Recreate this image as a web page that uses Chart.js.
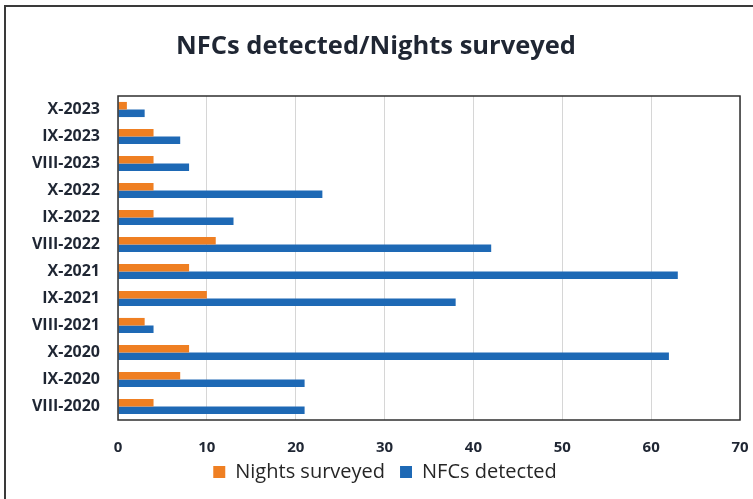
<!DOCTYPE html>
<html>
<head>
<meta charset="utf-8">
<script src="https://cdn.jsdelivr.net/npm/chart.js@4/dist/chart.umd.min.js"></script>
<style>
  html, body { margin: 0; padding: 0; background: #ffffff; }
  #wrap { width: 753px; height: 499px; position: relative; }
</style>
</head>
<body>
<div id="wrap"><canvas id="c" width="753" height="499"></canvas></div>
<script>
// Survey periods, listed top to bottom
const periods = ['X-2023', 'IX-2023', 'VIII-2023', 'X-2022', 'IX-2022', 'VIII-2022',
                 'X-2021', 'IX-2021', 'VIII-2021', 'X-2020', 'IX-2020', 'VIII-2020'];
// Nights surveyed per period
const nightsSurveyed = [1, 4, 4, 4, 4, 11, 8, 10, 3, 8, 7, 4];
// NFCs detected per period
const nfcsDetected = [3, 7, 8, 23, 13, 42, 63, 38, 4, 62, 21, 21];
// Value axis ticks
const xTicks = [0, 10, 20, 30, 40, 50, 60, 70];

const FONT = '"Open Sans", "Liberation Sans", sans-serif';
const TEXT = '#1f2633';

// Outer frame and plot-area box
const framePlugin = {
  id: 'frame',
  afterLayout(chart) {
    // nudge the legend a little up and right, closer under the axis labels
    const lg = chart.legend;
    if (lg) {
      lg.top -= 7; lg.bottom -= 7;
      lg.left += 9; lg.right += 9;
    }
  },
  beforeDraw(chart) {
    const ctx = chart.ctx;
    ctx.save();
    ctx.fillStyle = '#ffffff';
    ctx.fillRect(0, 0, chart.width, chart.height);
    ctx.restore();
  },
  afterDraw(chart) {
    const ctx = chart.ctx;
    const a = chart.chartArea;
    ctx.save();
    ctx.strokeStyle = '#3a3a3a';
    ctx.lineWidth = 2;
    ctx.strokeRect(5, 6, chart.width + 20, chart.height + 20);
    ctx.lineWidth = 1.5;
    ctx.strokeStyle = '#2f2f2f';
    ctx.strokeRect(a.left, a.top, a.right - a.left, a.bottom - a.top);
    ctx.restore();
  }
};

new Chart(document.getElementById('c'), {
  type: 'bar',
  data: {
    labels: periods,
    datasets: [
      { label: 'Nights surveyed', data: nightsSurveyed, backgroundColor: '#EF7F22' },
      { label: 'NFCs detected', data: nfcsDetected, backgroundColor: '#1E69B5' }
    ]
  },
  options: {
    indexAxis: 'y',
    responsive: false,
    animation: false,
    devicePixelRatio: 1,
    layout: { padding: { left: 12, right: 13, top: 0, bottom: 0 } },
    datasets: { bar: { barPercentage: 1, categoryPercentage: 0.56 } },
    scales: {
      x: {
        min: 0, max: 70,
        afterBuildTicks(scale) { scale.ticks = xTicks.map(v => ({ value: v })); },
        grid: { color: '#d6d6d6', lineWidth: 1, drawTicks: false },
        border: { display: false },
        ticks: { padding: 19, color: TEXT, font: { family: FONT, size: 15, weight: 'bold' } },
        afterFit(scale) { scale.height = 34; scale.paddingLeft = 0; scale.paddingRight = 0; }
      },
      y: {
        grid: { display: false, drawTicks: false },
        border: { display: false },
        ticks: { padding: 18, color: TEXT, font: { family: FONT, size: 16, weight: 'bold' } },
        afterFit(scale) { scale.width = 106; scale.paddingTop = 0; scale.paddingBottom = 0; }
      }
    },
    plugins: {
      title: {
        display: true,
        text: 'NFCs detected/Nights surveyed',
        color: TEXT,
        font: { family: FONT, size: 25.5, weight: 'bold' },
        padding: { top: 31.7, bottom: 33.7 }
      },
      legend: {
        position: 'bottom',
        labels: {
          color: '#262626',
          font: { family: FONT, size: 20 },
          boxWidth: 12, boxHeight: 12, padding: 15
        }
      },
      tooltip: { enabled: false }
    }
  },
  plugins: [framePlugin]
});
</script>
</body>
</html>
